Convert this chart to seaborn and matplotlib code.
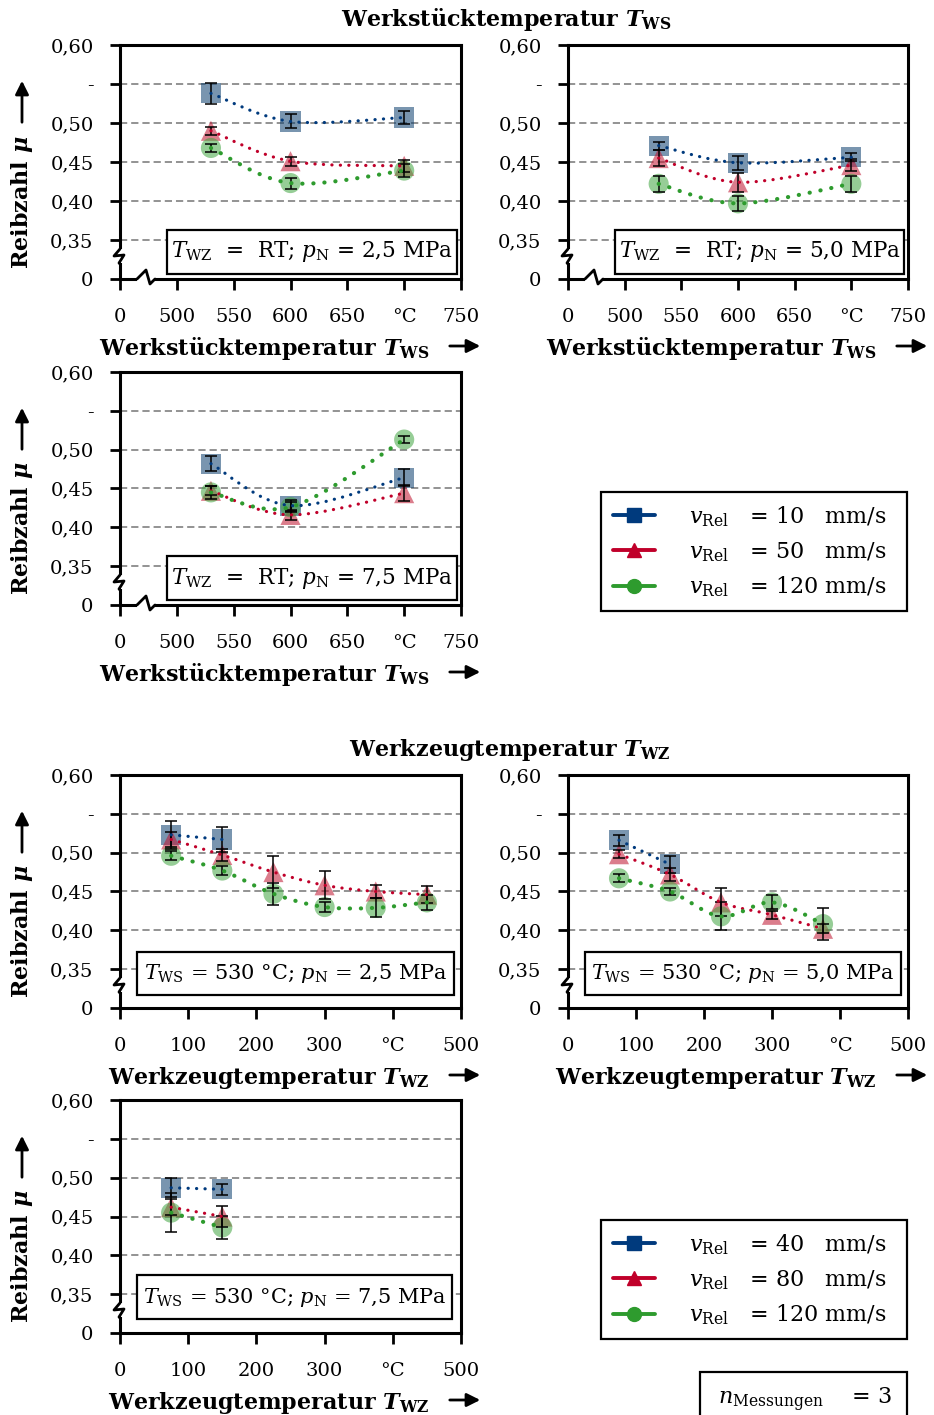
import numpy as np
import pandas as pd
import seaborn as sns
import matplotlib
matplotlib.use("Agg")
import matplotlib.pyplot as plt
from matplotlib.path import Path
from matplotlib.patches import PathPatch, Rectangle, FancyArrowPatch
from matplotlib.lines import Line2D

nan = np.nan

# ---------------- data ----------------
ws_temps = [530, 600, 700]
ws_speeds = ["10", "50", "120"]
ws25_mu = [[0.538, 0.502, 0.507], [0.490, 0.451, 0.445], [0.468, 0.423, 0.439]]
ws25_err = [[0.013, 0.009, 0.008], [0.005, 0.006, 0.008], [0.005, 0.007, 0.008]]
ws50_mu = [[0.471, 0.449, 0.456], [0.455, 0.424, 0.446], [0.422, 0.397, 0.422]]
ws50_err = [[0.005, 0.009, 0.005], [0.010, 0.012, 0.008], [0.010, 0.010, 0.010]]
ws75_mu = [[0.482, 0.428, 0.464], [0.447, 0.416, 0.444], [0.445, 0.426, 0.513]]
ws75_err = [[0.010, 0.007, 0.011], [0.006, 0.006, 0.010], [0.008, 0.006, 0.005]]

wz_temps = [75, 150, 225, 300, 375, 450]
wz_speeds = ["40", "80", "120"]
wz25_mu = [[0.523, 0.517, nan, nan, nan, nan],
           [0.517, 0.497, 0.475, 0.458, 0.450, 0.446],
           [0.496, 0.477, 0.447, 0.430, 0.429, 0.436]]
wz25_err = [[0.018, 0.016, nan, nan, nan, nan],
            [0.010, 0.008, 0.021, 0.018, 0.008, 0.011],
            [0.006, 0.006, 0.014, 0.007, 0.012, 0.010]]
wz50_mu = [[0.516, 0.485, nan, nan, nan, nan],
           [0.498, 0.472, 0.436, 0.420, 0.402, nan],
           [0.467, 0.450, 0.418, 0.436, 0.408, nan]]
wz50_err = [[0.007, 0.011, nan, nan, nan, nan],
            [0.005, 0.008, 0.018, 0.005, 0.006, nan],
            [0.005, 0.005, 0.018, 0.009, 0.021, nan]]
wz75_mu = [[0.487, 0.485, nan, nan, nan, nan],
           [0.462, 0.450, nan, nan, nan, nan],
           [0.455, 0.436, nan, nan, nan, nan]]
wz75_err = [[0.012, 0.007, nan, nan, nan, nan],
            [0.010, 0.014, nan, nan, nan, nan],
            [0.025, 0.015, nan, nan, nan, nan]]

y_ticks = [0.30, 0.35, 0.40, 0.45, 0.50, 0.55, 0.60]
y_ticklabels = ["0", "0,35", "0,40", "0,45", "0,50", "-", "0,60"]
ws_ticks = [450, 500, 550, 600, 650, 700, 750]
ws_ticklabels = ["0", "500", "550", "600", "650", "°C", "750"]
wz_ticks = [0, 100, 200, 300, 400, 500]
wz_ticklabels = ["0", "100", "200", "300", "°C", "500"]
grid_levels = [0.35, 0.40, 0.45, 0.50, 0.55]

# ---------------- style ----------------
sns.set_theme(style="white")
plt.rcParams["font.family"] = ["DejaVu Serif"]
plt.rcParams["mathtext.fontset"] = "custom"
plt.rcParams["mathtext.rm"] = "DejaVu Serif"
plt.rcParams["mathtext.it"] = "DejaVu Serif:italic"
plt.rcParams["mathtext.bf"] = "DejaVu Serif:bold"
plt.rcParams["mathtext.bfit"] = "DejaVu Serif:italic:bold"
for key in ["text.color", "axes.edgecolor", "axes.labelcolor", "xtick.color", "ytick.color"]:
    plt.rcParams[key] = "black"

W, H = 934, 1415
fig = plt.figure(figsize=(W / 100, H / 100), dpi=100)

line_colors = ["#003a7d", "#c0002a", "#2e9b2e"]
fill_colors = ["#0b3e6d", "#bf132e", "#40a440"]
marker_shapes = ["s", "^", "o"]


def fx(x):
    return x / W


def fy(y):
    return 1 - y / H


def smooth_path(xs, ys):
    """Cubic Bezier path through the points (Catmull-Rom style tangents)."""
    pts = np.column_stack([xs, ys])
    n = len(pts)
    verts = [pts[0]]
    codes = [Path.MOVETO]
    for i in range(n - 1):
        p0 = pts[i - 1] if i > 0 else pts[i]
        p1, p2 = pts[i], pts[i + 1]
        p3 = pts[i + 2] if i + 2 < n else pts[i + 1]
        verts += [p1 + (p2 - p0) / 6, p2 - (p3 - p1) / 6, p2]
        codes += [Path.CURVE4] * 3
    return Path(verts, codes)


def fig_line(xs, ys, **kw):
    fig.add_artist(Line2D([fx(x) for x in xs], [fy(y) for y in ys],
                          transform=fig.transFigure, color="black", **kw))


def fig_arrow(x0, y0, x1, y1):
    fig.add_artist(FancyArrowPatch((fx(x0), fy(y0)), (fx(x1), fy(y1)),
                                   transform=fig.transFigure, arrowstyle="-|>",
                                   mutation_scale=20, lw=2, color="black"))


def draw_panel(box, temps, speeds, mu, err, kind, note, note_box, ylabel):
    L, T, R, B = box
    ax = fig.add_axes([fx(L), fy(B), (R - L) / W, (B - T) / H])
    rows = []
    for s, m_row, e_row in zip(speeds, mu, err):
        for t, m, e in zip(temps, m_row, e_row):
            if not np.isnan(m):
                rows.append({"T": t, "mu": m, "err": e, "v": s})
    df = pd.DataFrame(rows)

    xlim = (450, 750) if kind == "ws" else (0, 500)
    ax.hlines(grid_levels, xlim[0], xlim[1], colors="#8a8a8a",
              linestyles=(0, (4, 2.2)), lw=1.3, zorder=0.5)

    sns.scatterplot(data=df, x="T", y="mu", hue="v", style="v",
                    hue_order=speeds, style_order=speeds,
                    palette=dict(zip(speeds, fill_colors)),
                    markers=dict(zip(speeds, marker_shapes)),
                    s=210, alpha=0.55, linewidth=0, legend=False, ax=ax, zorder=2)

    for i, s in enumerate(speeds):
        sub = df[df["v"] == s]
        ax.errorbar(sub["T"], sub["mu"], yerr=sub["err"], fmt="none",
                    ecolor="black", elinewidth=1.1, capsize=4.5, capthick=1.1, zorder=3)
        lw = 3.0 if i == 2 else 2.3
        patch = PathPatch(smooth_path(sub["T"].to_numpy(), sub["mu"].to_numpy()),
                          fill=False, edgecolor=line_colors[i], lw=lw,
                          linestyle=(0, (0.05, 2.6)), capstyle="round", zorder=4)
        ax.add_patch(patch)

    ax.set_xlim(*xlim)
    ax.set_ylim(0.30, 0.60)
    ax.set_yticks(y_ticks, y_ticklabels, fontsize=14)
    if kind == "ws":
        ax.set_xticks(ws_ticks, ws_ticklabels, fontsize=14)
    else:
        ax.set_xticks(wz_ticks, wz_ticklabels, fontsize=14)
    ax.set_xlabel("")
    ax.set_ylabel("")
    ax.tick_params(axis="y", direction="out", length=7, width=2, pad=12, left=True)
    ax.tick_params(axis="x", direction="out", length=8, width=2, pad=13, bottom=True)
    for sp in ax.spines.values():
        sp.set_linewidth(2.2)
        sp.set_color("black")

    # condition box
    x0, y0, x1, y1 = note_box
    ax.add_patch(Rectangle((x0, y0), x1 - x0, y1 - y0, transform=ax.transAxes,
                           facecolor="white", edgecolor="black", lw=1.6, zorder=5))
    ax.text((x0 + x1) / 2, (y0 + y1) / 2, note, transform=ax.transAxes,
            ha="center", va="center", fontsize=15.5 if kind == "ws" else 15, zorder=6)

    # broken y axis
    fig.add_artist(Rectangle((fx(L - 4), fy(B - 16)), 8 / W, 14 / H,
                             transform=fig.transFigure, facecolor="white",
                             edgecolor="none", zorder=3))
    fig_line([L, L - 6, L + 4, L - 1, L], [B - 30, B - 23, B - 24, B - 16, B - 15],
             lw=2, zorder=4)
    if kind == "ws":
        fig.add_artist(Rectangle((fx(L + 17), fy(B + 3)), 18 / W, 6 / H,
                                 transform=fig.transFigure, facecolor="white",
                                 edgecolor="none", zorder=3))
        fig_line([L + 17, L + 26, L + 30, L + 35], [B, B - 9, B + 5, B],
                 lw=2, zorder=4)

    # axis labels
    if kind == "ws":
        xl = r"Werkstücktemperatur $\mathbfit{T}_{\mathbf{WS}}$"
    else:
        xl = r"Werkzeugtemperatur $\mathbfit{T}_{\mathbf{WZ}}$"
    fig.text(fx(R - 31), fy(B + 76), xl, ha="right", va="baseline",
             fontsize=16, fontweight="bold")
    fig_arrow(R - 14, B + 67, R + 22, B + 67)
    if ylabel:
        fig.text(fx(22), fy(B - 10), r"Reibzahl $\mathbfit{\mu}$", rotation=90,
                 rotation_mode="anchor", ha="left", va="center",
                 fontsize=16, fontweight="bold")
        fig_arrow(22, T + 80, 22, T + 33)
    return ax


ws_note = r"$T_{\mathrm{WZ}}$  =  RT; $p_{\mathrm{N}}$ = {} MPa"
wz_note = r"$T_{\mathrm{WS}}$ = 530 °C; $p_{\mathrm{N}}$ = {} MPa"
ws_box = (0.138, 0.021, 0.988, 0.21)
wz_box = (0.05, 0.056, 0.979, 0.24)

draw_panel((120, 45, 461, 279), ws_temps, ws_speeds, ws25_mu, ws25_err, "ws",
           ws_note.replace("{}", "2,5"), ws_box, True)
draw_panel((568, 45, 908, 279), ws_temps, ws_speeds, ws50_mu, ws50_err, "ws",
           ws_note.replace("{}", "5,0"), ws_box, False)
draw_panel((120, 372, 461, 605), ws_temps, ws_speeds, ws75_mu, ws75_err, "ws",
           ws_note.replace("{}", "7,5"), ws_box, True)
draw_panel((120, 775, 461, 1008), wz_temps, wz_speeds, wz25_mu, wz25_err, "wz",
           wz_note.replace("{}", "2,5"), wz_box, True)
draw_panel((568, 775, 908, 1008), wz_temps, wz_speeds, wz50_mu, wz50_err, "wz",
           wz_note.replace("{}", "5,0"), wz_box, False)
draw_panel((120, 1100, 461, 1333), wz_temps, wz_speeds, wz75_mu, wz75_err, "wz",
           wz_note.replace("{}", "7,5"), (0.05, 0.06, 0.974, 0.249), True)

# section titles
fig.text(fx(506), fy(26), r"Werkstücktemperatur $\mathbfit{T}_{\mathbf{WS}}$",
         ha="center", va="baseline", fontsize=16, fontweight="bold")
fig.text(fx(510), fy(756), r"Werkzeugtemperatur $\mathbfit{T}_{\mathbf{WZ}}$",
         ha="center", va="baseline", fontsize=16, fontweight="bold")


# legends
def speed_legend(speeds, top, height=114):
    handles = [Line2D([], [], color=line_colors[i], lw=2.8, marker=marker_shapes[i],
                      markersize=10, markerfacecolor=line_colors[i],
                      markeredgecolor=line_colors[i]) for i in range(3)]
    labels = []
    for s in speeds:
        pad = " " * (2 * (3 - len(s)))
        labels.append(r"$v_{\mathrm{Rel}}$   = " + s + pad + " mm/s")
    leg = fig.legend(handles, labels, loc="upper left",
                     bbox_to_anchor=(fx(601), fy(top + height), 306 / W, height / H),
                     mode="expand", borderaxespad=0, fontsize=16,
                     frameon=True, fancybox=False, edgecolor="black",
                     handlelength=1.9, handletextpad=1.5, labelspacing=0.5,
                     borderpad=0.55)
    leg.get_frame().set_linewidth(1.6)
    leg.get_frame().set_alpha(None)
    return leg


speed_legend(ws_speeds, 492)
speed_legend(wz_speeds, 1220)

# sample size box
fig.add_artist(Rectangle((fx(700), fy(1425)), 207 / W, 53 / H, transform=fig.transFigure,
                         facecolor="white", edgecolor="black", lw=1.6))
fig.text(fx(718), fy(1404), r"$n_{\mathrm{Messungen}}$    = 3", ha="left",
         va="baseline", fontsize=16)

fig.savefig("out.png", dpi=100)
